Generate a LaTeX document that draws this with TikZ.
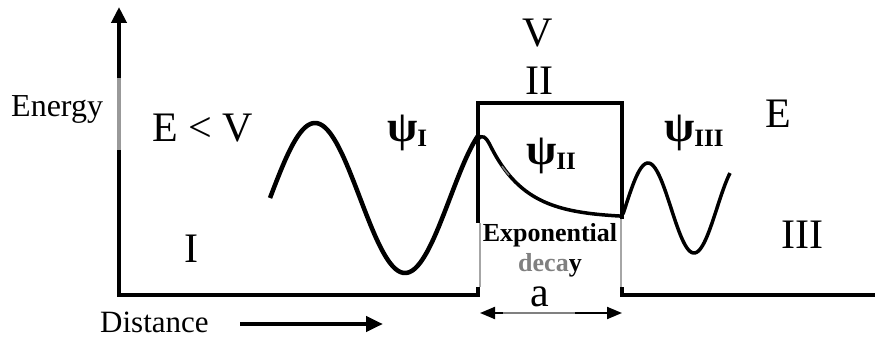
\documentclass[tikz,border=0pt]{standalone}
\usepackage{fontspec}
\setmainfont{Liberation Serif}
\usetikzlibrary{arrows.meta}
\tikzset{
  axisline/.style={line width=4.5pt, line join=miter},
  wave/.style={line width=4.5pt, line cap=butt},
  thinwave/.style={line width=3.5pt},
  lbl/.style={inner sep=0pt, font=\fontsize{42}{42}\selectfont},
  small/.style={inner sep=0pt, font=\fontsize{32}{32}\selectfont},
  boldlbl/.style={inner sep=0pt, font=\fontsize{26}{26}\selectfont\bfseries},
}
\newcommand{\psilabel}[1]{{\fontsize{44}{44}\selectfont\bfseries ψ}\raisebox{-5pt}{\fontsize{25}{25}\selectfont\bfseries #1}}
\begin{document}
\begin{tikzpicture}[x=1pt,y=-1pt]
\useasboundingbox (0,0) rectangle (875,339);
% coordinates of the potential
\coordinate (ytop) at (119,7);
\coordinate (o) at (119,295);
\coordinate (b1) at (478,295);
\coordinate (b2) at (478,103);
\coordinate (b3) at (622,103);
\coordinate (b4) at (622,295);
\coordinate (xend) at (877,295);
% axes and barrier
\draw[axisline, {Triangle[length=16pt,width=15pt]}-] (ytop) -- (o) -- (b1) -- (b2) -- (b3) -- (b4) -- (xend);
% gray segment on energy axis
\draw[line width=4.5pt, gray!80] (119,78) -- (119,150);
% lighter lower parts of barrier walls
\draw[line width=5pt, white] (478,223) -- (478,287);
\draw[line width=2pt, gray!70] (479.5,223) -- (479.5,287);
\draw[line width=5pt, white] (622,219) -- (622,287);
\draw[line width=2pt, gray!70] (621,219) -- (621,287);
% psi I
\draw[wave] plot[domain=270:478, samples=120] (\x, {198+75*cos(2*(\x-405))});
% decay in barrier
\draw[thinwave] (478,139) .. controls (482,134) and (486,137) .. (490,145)
  -- plot[domain=490:622, samples=80] (\x, {218-73*exp(-(\x-490)/36)});
\draw[line width=1.5pt, gray] plot[domain=503:510, samples=8] (\x-1, {217-73*exp(-(\x-490)/36)});
% psi III
\draw[thinwave] plot[domain=623:730, samples=100] (\x, {208+45*cos(3.913*(\x-694))});
% labels
\node[small, anchor=base west] (energy) at (11,117) {Energy};
\node[lbl, anchor=base west] (ecv) at (152,142) {E < V};
\node[lbl, anchor=base] (r1) at (191,262) {I};
\node[lbl, anchor=base] (vv) at (538,47) {V};
\node[lbl, anchor=base] (r2) at (539,95) {II};
\node[lbl, anchor=base] (ee) at (778,128) {E};
\node[lbl, anchor=base] (r3) at (802,248) {III};
\node[inner sep=0pt, anchor=base west] (psi1) at (387,142) {\psilabel{I}};
\node[inner sep=0pt, anchor=base west] (psi2) at (526,165) {\psilabel{II}};
\node[inner sep=0pt, anchor=base west] (psi3) at (664,142) {\psilabel{III}};
\node[boldlbl, anchor=base] (expo) at (550,241) {Exponential};
\node[boldlbl, anchor=base] (decay) at (550,271) {\textcolor{gray}{deca}y};
\node[lbl, anchor=base] (aa) at (540,306) {a};
\node[inner sep=0pt, font=\fontsize{31}{31}\selectfont, anchor=base west] (dist) at (100,332) {Distance};
% distance arrow
\coordinate (d1) at (240,324);
\coordinate (d2) at (383,324);
\draw[line width=4.5pt, -{Triangle[length=17pt,width=15pt]}] (d1) -- (d2);
% width arrow a
\coordinate (a1) at (480,313);
\coordinate (a2) at (622,313);
\draw[line width=2pt, {Triangle[length=15pt,width=12pt]}-{Triangle[length=15pt,width=12pt]}] (a1) -- (a2);
\draw[line width=2pt, gray] (503,313) -- (575,313);
\end{tikzpicture}
\end{document}
